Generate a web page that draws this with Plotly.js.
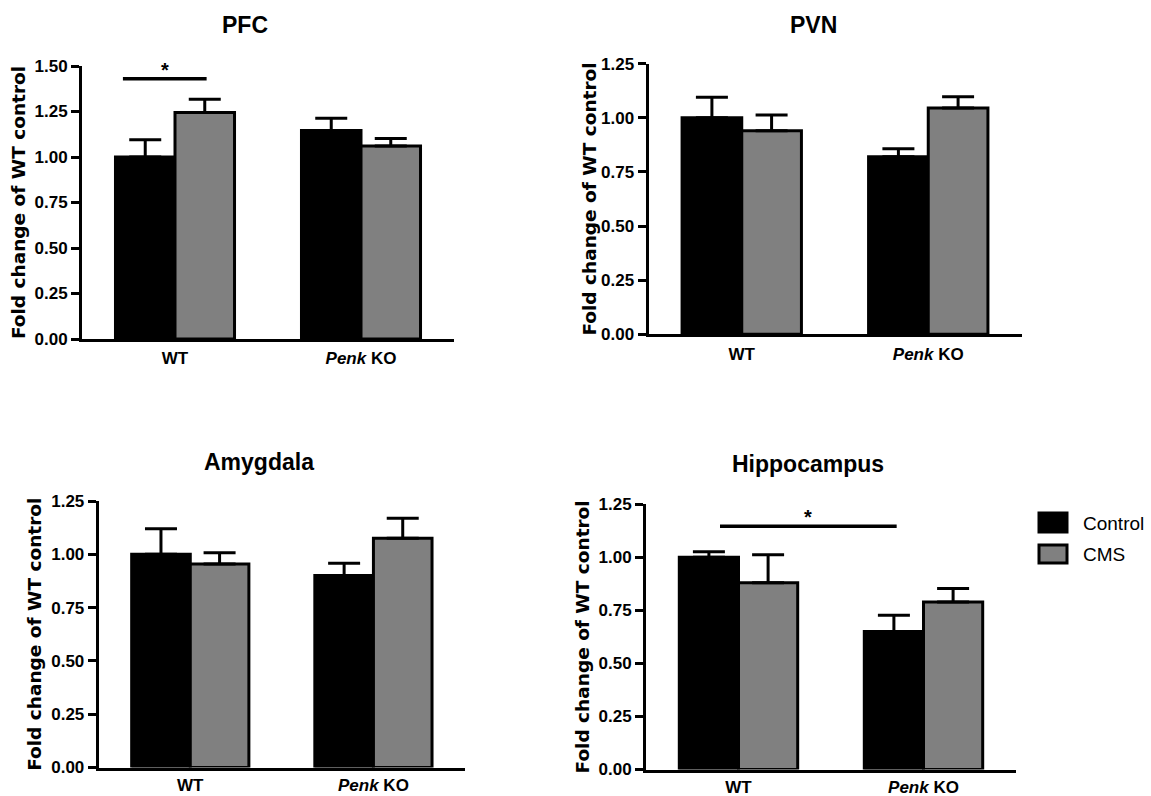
<!DOCTYPE html>
<html>
<head>
<meta charset="utf-8">
<script src="https://cdn.plot.ly/plotly-3.0.1.min.js"></script>
<style>html,body{margin:0;padding:0;background:#fff;}#chart{width:1151px;height:796px;}</style>
</head>
<body>
<div id="chart"></div>
<script>
// ---------- data ----------
const groups = [0, 1];
const groupLabels = ['WT', '<i>Penk</i> KO'];
const regions = ['PFC', 'PVN', 'Amygdala', 'Hippocampus'];
const seriesNames = ['Control', 'CMS'];

const pfcControl = [1.00, 1.145];
const pfcControlErr = [0.095, 0.068];
const pfcCms = [1.245, 1.06];
const pfcCmsErr = [0.072, 0.042];

const pvnControl = [1.00, 0.82];
const pvnControlErr = [0.095, 0.037];
const pvnCms = [0.94, 1.045];
const pvnCmsErr = [0.073, 0.052];

const amyControl = [1.00, 0.90];
const amyControlErr = [0.12, 0.058];
const amyCms = [0.955, 1.075];
const amyCmsErr = [0.052, 0.094];

const hipControl = [1.00, 0.65];
const hipControlErr = [0.026, 0.077];
const hipCms = [0.88, 0.79];
const hipCmsErr = [0.132, 0.063];

const yMax = [1.5, 1.25, 1.25, 1.25];

// significance brackets: [panel index, x from, x to, height]
const sigPanel = [0, 3];
const sigFrom = [-0.28, -0.1];
const sigTo = [0.17, 0.855];
const sigHeight = [1.43, 1.146];

// ---------- styling ----------
const controlColor = '#000000';
const cmsColor = '#808080';
const W = 1151, H = 796;
// panel pixel boxes: [left, right, bottom, top]
const boxes = [
  [82, 454, 339, 66],
  [648.5, 1021.5, 334.3, 63.7],
  [98.7, 465, 767.5, 501],
  [646, 1016, 769.5, 504.3]
];
const titleBoxes = [[245, 25], [813, 25], [259, 462], [808, 464]];
const yTitleStandoff = [5, 0, 5, 5];
const xLabelStandoff = [2, 2, 0, 0];

const controls = [pfcControl, pvnControl, amyControl, hipControl];
const controlErrs = [pfcControlErr, pvnControlErr, amyControlErr, hipControlErr];
const cmss = [pfcCms, pvnCms, amyCms, hipCms];
const cmsErrs = [pfcCmsErr, pvnCmsErr, amyCmsErr, hipCmsErr];

const traces = [];
const layout = {
  width: W, height: H,
  margin: {l: 0, r: 0, t: 0, b: 0},
  paper_bgcolor: '#ffffff', plot_bgcolor: 'rgba(0,0,0,0)',
  barmode: 'group', bargap: 0.36, bargroupgap: 0,
  showlegend: false,
  font: {family: 'Liberation Sans, Arial, sans-serif', color: '#000'},
  shapes: [], annotations: []
};

const tickFont = {family: 'Liberation Sans, Arial, sans-serif', size: 17, weight: 'bold', color: '#000'};

regions.forEach((name, i) => {
  const sfx = i === 0 ? '' : String(i + 1);
  const xa = 'x' + sfx, ya = 'y' + sfx;
  const b = boxes[i];
  [[controls[i], controlErrs[i], controlColor, seriesNames[0]],
   [cmss[i], cmsErrs[i], cmsColor, seriesNames[1]]].forEach(([vals, errs, col, nm]) => {
    traces.push({
      type: 'bar', x: groups, y: vals, name: nm, xaxis: xa, yaxis: ya,
      marker: {color: col, line: {color: '#000', width: 3}},
      error_y: {type: 'data', symmetric: false, array: errs, arrayminus: errs.map(() => 0),
                color: '#000', thickness: 3, width: 16},
      hoverinfo: 'skip'
    });
  });
  layout['xaxis' + sfx] = {
    domain: [b[0] / W, b[1] / W], anchor: ya, range: [-0.5, 1.5],
    tickvals: groups, ticktext: groupLabels, ticks: '', ticklabelstandoff: xLabelStandoff[i],
    showline: true, linecolor: '#000', linewidth: 3, showgrid: false, zeroline: false,
    tickfont: tickFont, fixedrange: true
  };
  layout['yaxis' + sfx] = {
    domain: [1 - b[2] / H, 1 - b[3] / H], anchor: xa, range: [0, yMax[i]],
    dtick: 0.25, tick0: 0, tickformat: '.2f', ticks: 'outside', ticklen: 8, tickwidth: 3,
    tickcolor: '#000', showline: true, linecolor: '#000', linewidth: 3,
    showgrid: false, zeroline: false, tickfont: tickFont, fixedrange: true,
    title: {text: 'Fold change of WT control', standoff: yTitleStandoff[i],
            font: {family: 'DejaVu Sans, sans-serif', size: 18.5, weight: 'bold', color: '#000'}}
  };
  layout.annotations.push({
    text: name, xref: 'paper', yref: 'paper',
    x: titleBoxes[i][0] / W, y: 1 - titleBoxes[i][1] / H,
    xanchor: 'center', yanchor: 'middle', showarrow: false,
    font: {family: 'Liberation Sans, Arial, sans-serif', size: 23, weight: 'bold', color: '#000'}
  });
});

sigPanel.forEach((p, k) => {
  const sfx = p === 0 ? '' : String(p + 1);
  layout.shapes.push({
    type: 'line', xref: 'x' + sfx, yref: 'y' + sfx,
    x0: sigFrom[k], x1: sigTo[k], y0: sigHeight[k], y1: sigHeight[k],
    line: {color: '#000', width: 3.5}
  });
  layout.annotations.push({
    text: '*', xref: 'x' + sfx, yref: 'y' + sfx,
    x: (sigFrom[k] + sigTo[k]) / 2, y: sigHeight[k],
    xanchor: 'center', yanchor: 'bottom', yshift: -4, showarrow: false,
    font: {family: 'Liberation Sans, Arial, sans-serif', size: 20, weight: 'bold', color: '#000'}
  });
});

// legend (drawn manually to match the large rounded swatches)
const legendColors = [controlColor, cmsColor];
const legendRows = [[513, 532, 523], [545, 563, 554]];
seriesNames.forEach((nm, k) => {
  const r = legendRows[k];
  const x0 = 1039 / W, x1 = 1067 / W, y0 = 1 - r[1] / H, y1 = 1 - r[0] / H;
  layout.shapes.push({
    type: 'rect', xref: 'paper', yref: 'paper', x0: x0, x1: x1, y0: y0, y1: y1,
    fillcolor: legendColors[k], line: {color: '#000', width: 3}
  });
  layout.annotations.push({
    text: nm, xref: 'paper', yref: 'paper', x: 1081 / W, y: 1 - r[2] / H,
    xanchor: 'left', yanchor: 'middle', showarrow: false,
    font: {family: 'Liberation Sans Narrow, Arial Narrow, Liberation Sans, sans-serif', size: 19, color: '#000'}
  });
});

Plotly.newPlot('chart', traces, layout, {staticPlot: true, displayModeBar: false});
</script>
</body>
</html>
